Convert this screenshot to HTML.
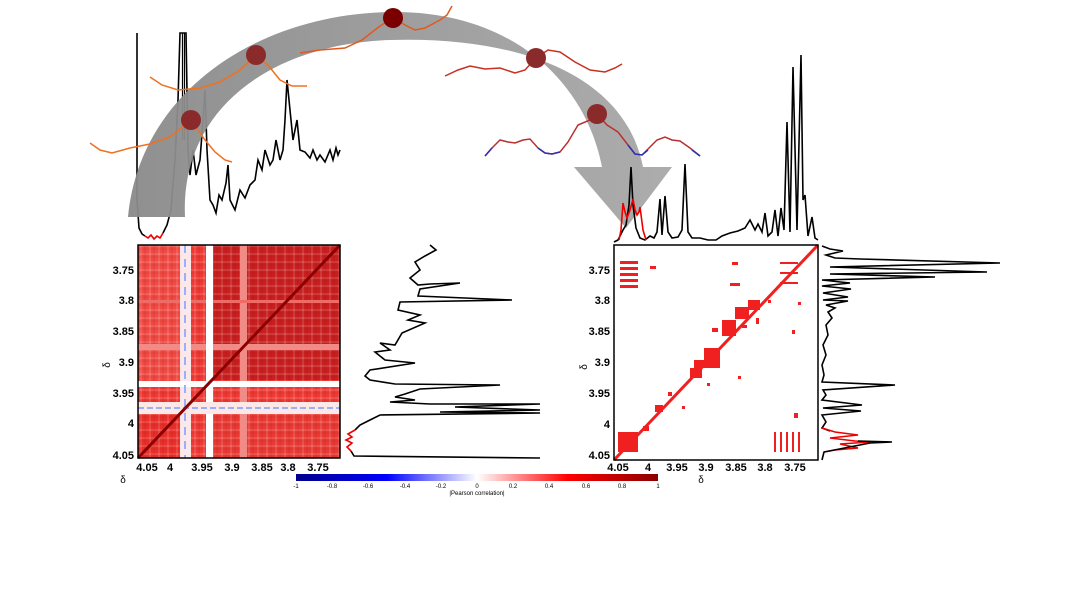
<!DOCTYPE html>
<html><head><meta charset="utf-8"><style>
html,body{margin:0;padding:0;background:#fff}
svg{display:block}
text{font-family:"Liberation Sans",Arial,sans-serif}
</style></head><body>
<svg width="1076" height="614" viewBox="0 0 1076 614" xmlns="http://www.w3.org/2000/svg">
<defs>
<linearGradient id="cb" x1="0" x2="1" y1="0" y2="0">
<stop offset="0" stop-color="#00008b"/><stop offset="0.25" stop-color="#0000ff"/>
<stop offset="0.5" stop-color="#ffffff"/><stop offset="0.75" stop-color="#ff0000"/>
<stop offset="1" stop-color="#8b0000"/></linearGradient>
<linearGradient id="arc" x1="0" x2="1" y1="0" y2="0">
<stop offset="0" stop-color="#8a8a8a"/><stop offset="1" stop-color="#a8a8a8"/></linearGradient>
<pattern id="vs" width="9" height="213" patternUnits="userSpaceOnUse"><rect x="0" y="0" width="2" height="213" fill="#8b0000" opacity="0.08"/><rect x="5" y="0" width="2" height="213" fill="#fff" opacity="0.12"/></pattern>
<pattern id="hs" width="202" height="8" patternUnits="userSpaceOnUse"><rect x="0" y="0" width="202" height="2" fill="#8b0000" opacity="0.06"/><rect x="0" y="5" width="202" height="2" fill="#fff" opacity="0.12"/></pattern>
</defs>

<!-- top-left spectrum -->
<polyline fill="none" stroke="#000" stroke-width="1.6" points="137,33 137,200 139,228 142,234 145,236"/>
<polyline fill="none" stroke="#e00" stroke-width="1.6" points="145,236 148,238 151,235 154,239 157,236 160,238 163,233"/>
<polyline fill="none" stroke="#000" stroke-width="1.6" points="163,233 167,225 171,210 175,160 178,100 180,33 182,33 184,33 186,33 188,150 190,175 193,150 196,175 200,160 203,120 205,90 207,150 210,200 213,205 216,213 219,195 222,200 226,183 228,165 230,200 235,210 240,190 245,198 250,185 255,180 258,160 262,170 265,150 270,165 273,160 276,140 280,160 283,150 285,120 287,80 290,110 293,140 297,120 300,150 305,152 310,158 313,150 317,160 320,155 325,162 330,150 333,160 336,148 338,155 340,150"/>
<line x1="182.5" y1="33" x2="182.5" y2="140" stroke="#000" stroke-width="1.2"/>
<line x1="184.5" y1="33" x2="184.5" y2="140" stroke="#000" stroke-width="1.2"/>

<!-- arrow -->
<path d="M128,217 C140,90 260,14 390,12 C510,10 585,80 602,167 L574,167 L626,228 L672,167 L643,167 C625,75 520,36 390,40 C270,44 180,110 185,217 Z" fill="url(#arc)" opacity="0.95"/>

<!-- wavy lines -->
<polyline fill="none" stroke="#f07020" stroke-width="1.5" points="90,143 100,150 112,153 130,148 150,144 170,137 191,120 205,140 215,152 225,160 232,162"/>
<polyline fill="none" stroke="#f07020" stroke-width="1.5" points="150,77 162,85 178,90 200,88 220,82 240,70 256,55 268,65 280,80 292,86 307,86"/>
<polyline fill="none" stroke="#e05a20" stroke-width="1.5" points="300,53 320,50 345,48 362,40 380,26 393,18 405,25 415,30 425,28 440,20 447,15 452,6"/>
<polyline fill="none" stroke="#c83020" stroke-width="1.5" points="445,76 458,70 470,66 485,69 500,68 515,73 525,70 536,58 548,50 560,52 575,62 590,70 605,72 615,68 622,64"/>
<polyline fill="none" stroke="#b83030" stroke-width="1.5" points="485,156 492,148 500,140 508,142 515,143 523,140 530,139 538,148 545,153 552,154 560,152 568,142 578,125 590,120 597,114 607,125 618,132 628,145 635,154 642,155 650,147 657,140 665,137 672,140 680,141 690,148 700,156"/>
<polyline fill="none" stroke="#3030b0" stroke-width="1.5" points="485,156 492,148"/>
<polyline fill="none" stroke="#3030b0" stroke-width="1.5" points="538,148 545,153 552,154 560,152"/>
<polyline fill="none" stroke="#3030b0" stroke-width="1.5" points="628,145 635,154 642,155 648,150"/>
<polyline fill="none" stroke="#3030b0" stroke-width="1.5" points="692,150 700,156"/>
<g fill="#8b2a2a"><circle cx="191" cy="120" r="10"/><circle cx="256" cy="55" r="10"/><circle cx="536" cy="58" r="10"/><circle cx="597" cy="114" r="10"/></g>
<circle cx="393" cy="18" r="10" fill="#7a0000"/>

<!-- left heatmap -->
<g>
<rect x="138" y="245" width="202" height="213" fill="#ee3a34"/>
<rect x="213" y="245" width="127" height="135" fill="#c82020"/>
<rect x="138" y="245" width="42" height="140" fill="#f04a44"/>
<rect x="138" y="415" width="42" height="43" fill="#e8302a"/>
<rect x="213" y="415" width="127" height="43" fill="#e83a34"/>
<rect x="138" y="245" width="202" height="213" fill="url(#vs)"/>
<rect x="138" y="245" width="202" height="213" fill="url(#hs)"/>
<rect x="240" y="245" width="7" height="213" fill="#f28a86"/>
<rect x="138" y="344" width="202" height="6" fill="#f28a86"/>
<rect x="138" y="300" width="202" height="3" fill="#f06a66"/>
<rect x="180" y="245" width="11" height="213" fill="#fce8e8"/>
<rect x="206" y="245" width="7" height="213" fill="#fff"/>
<rect x="138" y="381" width="202" height="6" fill="#fff"/>
<rect x="138" y="402" width="202" height="12" fill="#fde8e8"/>
<line x1="138" y1="408" x2="340" y2="408" stroke="#9ab0ff" stroke-width="2" stroke-dasharray="6,3"/>
<line x1="185" y1="245" x2="185" y2="458" stroke="#9ab0ff" stroke-width="2" stroke-dasharray="8,6"/>
<line x1="138" y1="458" x2="340" y2="245" stroke="#8b0000" stroke-width="3"/>
<rect x="138" y="245" width="202" height="213" fill="none" stroke="#000" stroke-width="1.5"/>
</g>
<g font-size="11" font-weight="bold" fill="#000" text-anchor="end">
<text x="134" y="274">3.75</text><text x="134" y="304">3.8</text><text x="134" y="335">3.85</text>
<text x="134" y="366">3.9</text><text x="134" y="397">3.95</text><text x="134" y="427">4</text><text x="134" y="459">4.05</text></g>
<g font-size="11" font-weight="bold" fill="#000" text-anchor="middle">
<text x="147" y="471">4.05</text><text x="170" y="471">4</text><text x="202" y="471">3.95</text><text x="232" y="471">3.9</text>
<text x="262" y="471">3.85</text><text x="288" y="471">3.8</text><text x="318" y="471">3.75</text></g>
<text x="123" y="483" font-size="10" text-anchor="middle">δ</text>
<text x="110" y="365" font-size="10" text-anchor="middle" transform="rotate(-90 110 365)">δ</text>

<!-- left vertical spectrum -->
<polyline fill="none" stroke="#000" stroke-width="1.6" points="430,245 436,250 425,256 415,262 420,270 410,278 418,285 430,284 460,283 420,289 418,296 512,300 400,302 398,310 420,315 408,320 425,323 402,333 395,345 380,343 390,350 375,352 385,360 415,363 370,370 365,376 370,380 395,384 500,385 420,389 405,394 395,397 415,400 390,402 430,404 540,404 455,407 540,410 440,412 540,413 380,415 370,420 360,425 355,430"/>
<polyline fill="none" stroke="#e00" stroke-width="1.6" points="355,430 348,434 352,437 346,440 352,443 347,447 351,451"/>
<polyline fill="none" stroke="#000" stroke-width="1.6" points="351,451 354,456 540,458"/>

<!-- colorbar -->
<rect x="296" y="474" width="362" height="7" fill="url(#cb)"/>
<g font-size="6" fill="#000" text-anchor="middle">
<text x="296" y="488">-1</text><text x="332" y="488">-0.8</text><text x="368" y="488">-0.6</text><text x="405" y="488">-0.4</text>
<text x="441" y="488">-0.2</text><text x="477" y="488">0</text><text x="513" y="488">0.2</text><text x="549" y="488">0.4</text>
<text x="586" y="488">0.6</text><text x="622" y="488">0.8</text><text x="658" y="488">1</text>
<text x="477" y="495">|Pearson correlation|</text></g>

<!-- right top spectrum -->
<polyline fill="none" stroke="#000" stroke-width="1.6" points="614,242 618,240 620,236 623,230 626,225 629,205 631,167 633,205 636,228 640,238 645,240 650,236 654,238 657,232 660,199 662,235 665,196 668,232 672,238 678,237 682,230 685,164 688,232 692,238 700,238 708,240 716,240 722,236 730,233 738,231 745,228 750,220 755,230 758,224 762,232 765,213 768,236 772,232 775,210 778,236 781,208 784,230 787,122 790,232 793,67 797,230 801,55 803,200 805,195 808,236 812,217 815,238 818,240"/>
<polyline fill="none" stroke="#e00" stroke-width="1.6" points="619,240 621,230 623,203 625,212 627,218 630,210 633,199 635,210 637,215 639,212 640,207 643,230 646,240"/>

<!-- right heatmap -->
<g fill="#f02020">
<rect x="618" y="432" width="20" height="20"/>
<rect x="620" y="261" width="18" height="3"/><rect x="620" y="267" width="18" height="3"/><rect x="620" y="273" width="18" height="3"/><rect x="620" y="279" width="18" height="3"/><rect x="620" y="285" width="18" height="3"/>
<rect x="774" y="432" width="2" height="20"/><rect x="780" y="432" width="2" height="20"/><rect x="786" y="432" width="2" height="20"/><rect x="792" y="432" width="2" height="20"/><rect x="798" y="432" width="2" height="20"/>
<rect x="704" y="348" width="16" height="20"/><rect x="694" y="360" width="10" height="8"/>
<rect x="735" y="307" width="14" height="12"/><rect x="722" y="320" width="14" height="16"/>
<rect x="748" y="300" width="12" height="10"/>
<rect x="690" y="368" width="12" height="10"/>
<rect x="780" y="262" width="18" height="2"/><rect x="780" y="272" width="18" height="2"/><rect x="780" y="282" width="18" height="2"/>
<rect x="732" y="262" width="6" height="3"/><rect x="730" y="283" width="10" height="3"/>
<rect x="798" y="302" width="3" height="3"/><rect x="792" y="330" width="3" height="4"/>
<rect x="650" y="266" width="6" height="3"/>
<rect x="643" y="426" width="6" height="5"/><rect x="655" y="405" width="8" height="7"/><rect x="668" y="392" width="4" height="4"/>
<rect x="712" y="328" width="6" height="4"/><rect x="742" y="325" width="5" height="3"/><rect x="756" y="318" width="3" height="6"/>
<rect x="707" y="383" width="3" height="3"/><rect x="738" y="376" width="3" height="3"/><rect x="682" y="406" width="3" height="3"/>
<rect x="794" y="413" width="4" height="5"/><rect x="768" y="300" width="3" height="3"/>
</g>
<line x1="614" y1="460" x2="818" y2="245" stroke="#f02020" stroke-width="3"/>
<rect x="614" y="245" width="204" height="215" fill="none" stroke="#000" stroke-width="1.5"/>
<g font-size="11" font-weight="bold" fill="#000" text-anchor="end">
<text x="610" y="274">3.75</text><text x="610" y="304">3.8</text><text x="610" y="335">3.85</text>
<text x="610" y="366">3.9</text><text x="610" y="397">3.95</text><text x="610" y="428">4</text><text x="610" y="459">4.05</text></g>
<g font-size="11" font-weight="bold" fill="#000" text-anchor="middle">
<text x="618" y="471">4.05</text><text x="648" y="471">4</text><text x="677" y="471">3.95</text><text x="706" y="471">3.9</text>
<text x="736" y="471">3.85</text><text x="765" y="471">3.8</text><text x="795" y="471">3.75</text></g>
<text x="701" y="483" font-size="10" text-anchor="middle">δ</text>
<text x="587" y="367" font-size="10" text-anchor="middle" transform="rotate(-90 587 367)">δ</text>

<!-- right side spectrum -->
<polyline fill="none" stroke="#000" stroke-width="1.6" points="822,246 830,249 843,251 826,255 835,258 860,259 1000,263 830,267 987,272 830,274 935,277 822,280 850,283 822,286 851,289 823,293 848,297 823,300 848,301 826,305 835,308 828,312 832,318 826,325 828,335 823,345 826,355 822,365 824,375 822,382 895,385 823,390 826,395 822,400 862,405 823,408 861,411 822,415 826,422 822,428 830,431"/>
<polyline fill="none" stroke="#e00" stroke-width="1.6" points="822,428 835,432 858,435 830,438 855,441 870,442 840,444 858,448 835,450 824,452"/>
<polyline fill="none" stroke="#000" stroke-width="1.6" points="858,441 892,442 870,443 824,452 822,460"/>
</svg>
</body></html>
